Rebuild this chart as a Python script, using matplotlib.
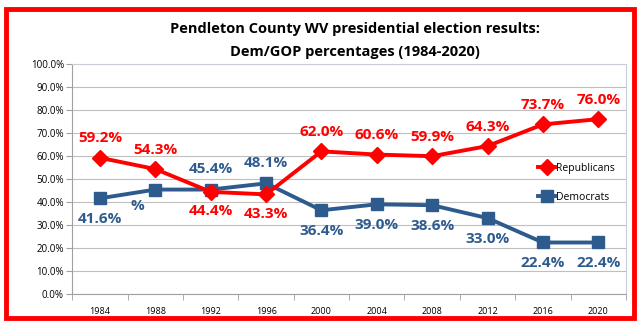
import matplotlib.pyplot as plt
from matplotlib.patches import Rectangle
from matplotlib.lines import Line2D

# Дані
years = ["1984", "1988", "1992", "1996", "2000", "2004", "2008", "2012", "2016", "2020"]
rep = [59.2, 54.3, 44.4, 43.3, 62.0, 60.6, 59.9, 64.3, 73.7, 76.0]
dem = [41.6, 45.4, 45.4, 48.1, 36.4, 39.0, 38.6, 33.0, 22.4, 22.4]
dem_labels = ["41.6%", "%", "45.4%", "48.1%", "36.4%", "39.0%", "38.6%", "33.0%", "22.4%", "22.4%"]
rep_labels = ["59.2%", "54.3%", "44.4%", "43.3%", "62.0%", "60.6%", "59.9%", "64.3%", "73.7%", "76.0%"]

RED = "#FF0000"
BLUE = "#2E5B8E"

plt.rcParams['font.family'] = ['Open Sans', 'DejaVu Sans']

fig = plt.figure(figsize=(6.4, 3.26), dpi=100)
ax = fig.add_axes([0.113, 0.098, 0.865, 0.706])

x = list(range(len(years)))
ax.plot(x, rep, color=RED, lw=2.8, marker='D', ms=8, mec=RED, mfc=RED, zorder=4)
ax.plot(x, dem, color=BLUE, lw=2.8, marker='s', ms=9, mec=BLUE, mfc=BLUE, zorder=3)

# Підписи точок
for i in x:
    up = i not in (2, 3)
    ax.annotate(rep_labels[i], (i, rep[i]), xytext=(0, 14 if up else -14),
                textcoords='offset points', ha='center', va='center',
                color=RED, fontsize=11, fontweight='bold')
    if i == 1:
        ax.annotate(dem_labels[i], (i, dem[i]), xytext=(-13, -12),
                    textcoords='offset points', ha='center', va='center',
                    color=BLUE, fontsize=11, fontweight='bold')
        continue
    down = i not in (2, 3)
    ax.annotate(dem_labels[i], (i, dem[i]), xytext=(0, -15 if down else 15),
                textcoords='offset points', ha='center', va='center',
                color=BLUE, fontsize=11, fontweight='bold')

ax.set_xlim(-0.5, 9.5)
ax.set_ylim(0, 100)
ax.set_yticks(range(0, 101, 10))
ax.set_yticklabels([f"{v:.1f}%" for v in range(0, 101, 10)], fontsize=7)
ax.set_xticks(x)
ax.set_xticklabels(years, fontsize=6.5)
ax.set_xticks([i + 0.5 for i in range(-1, 10)], minor=True)
ax.tick_params(axis='x', which='major', length=0, pad=9)
ax.tick_params(axis='x', which='minor', length=4, color='#A0A0A0')
ax.tick_params(axis='y', length=4, color='#A0A0A0', pad=2)
ax.grid(axis='y', color='#BFBFBF', lw=0.8)
ax.set_axisbelow(True)
for s in ['top', 'right']:
    ax.spines[s].set_color('#C8CDD8')
for s in ['left', 'bottom']:
    ax.spines[s].set_color('#A0A0A0')

handles = [Line2D([0], [0], color=RED, lw=2.8, marker='D', ms=8),
           Line2D([0], [0], color=BLUE, lw=2.8, marker='s', ms=9)]
ax.legend(handles, ["Republicans", "Democrats"], loc='upper left',
          bbox_to_anchor=(0.825, 0.61), frameon=False, fontsize=7.5,
          handlelength=1.6, handletextpad=0.1, labelspacing=1.7)

fig.text(0.555, 0.912, "Pendleton County WV presidential election results:",
         ha='center', va='center', fontsize=10.5, fontweight='bold')
fig.text(0.555, 0.84, "Dem/GOP percentages (1984-2020)",
         ha='center', va='center', fontsize=10.5, fontweight='bold')

fig.add_artist(Rectangle((0.01, 0.025), 0.98, 0.947, transform=fig.transFigure,
                         fill=False, edgecolor=RED, lw=3.5))

fig.savefig("out.png", dpi=100)
